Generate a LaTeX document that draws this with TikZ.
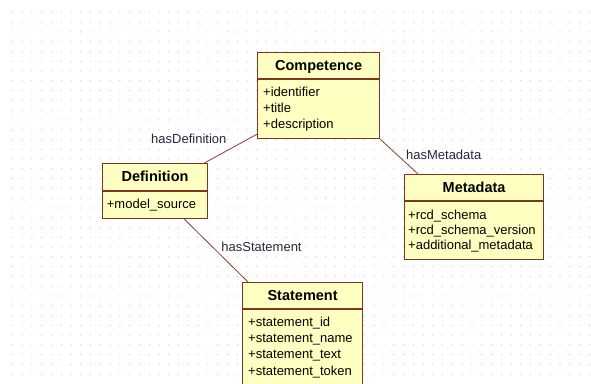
\documentclass[tikz,border=0pt]{standalone}
\usepackage{fontspec}
\setmainfont{Liberation Sans}
\definecolor{bordc}{RGB}{128,52,36}
\definecolor{fillc}{RGB}{255,255,194}
\definecolor{linec}{RGB}{140,60,50}
\definecolor{labc}{RGB}{40,40,60}
\definecolor{dotc}{RGB}{205,205,205}
\begin{document}
\begin{tikzpicture}[x=1pt,y=-1pt,
  classbox/.style={draw=bordc, fill=fillc, line width=1.2pt, anchor=north west, inner sep=0pt},
  ctitle/.style={font=\fontsize{14.5}{16}\selectfont\bfseries, anchor=base, inner sep=0pt},
  cattr/.style={font=\fontsize{13}{15.8}\selectfont, align=left, anchor=north west, inner sep=0pt},
  sepline/.style={draw=bordc, line width=1.2pt},
  assoc/.style={draw=linec, line width=0.8pt},
  alabel/.style={font=\fontsize{13}{15}\selectfont, text=labc, inner sep=0pt}]
\useasboundingbox (0,0) rectangle (591,383);
\clip (0,0) rectangle (591,383);
\fill[white] (0,0) rectangle (591,383);
\foreach \i in {0,...,59}
  \foreach \j in {0,...,37}
    \fill[dotc] (12.3+9.78*\i, 12.3+9.78*\j) circle (0.65pt);

% Competence
\node[classbox, minimum width=122pt, minimum height=86pt] (comp) at (257,52) {};
\draw[sepline] ([yshift=-27pt]comp.north west) -- ([yshift=-27pt]comp.north east);
\node[ctitle] (compT) at ([yshift=-18pt]comp.north) {Competence};
\node[cattr] (compA) at ([xshift=6pt,yshift=-35pt]comp.north west) {+identifier\\+title\\+description};

% Definition
\node[classbox, minimum width=105.5pt, minimum height=55pt] (def) at (101.7,163) {};
\draw[sepline] ([yshift=-28pt]def.north west) -- ([yshift=-28pt]def.north east);
\node[ctitle] (defT) at ([yshift=-18.5pt]def.north) {Definition};
\node[cattr] (defA) at ([xshift=5pt,yshift=-35.5pt]def.north west) {+model\_source};

% Metadata
\node[classbox, minimum width=139pt, minimum height=85pt] (meta) at (404,174) {};
\draw[sepline] ([yshift=-27pt]meta.north west) -- ([yshift=-27pt]meta.north east);
\node[ctitle] (metaT) at ([yshift=-18pt]meta.north) {Metadata};
\node[cattr, font=\fontsize{13}{15.2}\selectfont] (metaA) at ([xshift=4pt,yshift=-35.5pt]meta.north west) {+rcd\_schema\\+rcd\_schema\_version\\+additional\_metadata};

% Statement
\node[classbox, minimum width=120pt, minimum height=115pt] (stmt) at (242,282) {};
\draw[sepline] ([yshift=-27pt]stmt.north west) -- ([yshift=-27pt]stmt.north east);
\node[ctitle] (stmtT) at ([yshift=-18pt]stmt.north) {Statement};
\node[cattr, font=\fontsize{13}{16.3}\selectfont] (stmtA) at ([xshift=6pt,yshift=-34.5pt]stmt.north west) {+statement\_id\\+statement\_name\\+statement\_text\\+statement\_token};

% Associations
\draw[assoc] ([yshift=5pt]comp.south west) -- ([xshift=-4pt]def.north east);
\draw[assoc] (comp.south east) -- ([xshift=14pt]meta.north west);
\draw[assoc] ([xshift=-24pt]def.south east) -- ([xshift=6pt]stmt.north west);

\node[alabel] (lDef) at (188.8,138.5) {hasDefinition};
\node[alabel] (lMeta) at (443.7,155) {hasMetadata};
\node[alabel] (lStmt) at (261.5,246.7) {hasStatement};
\end{tikzpicture}
\end{document}
